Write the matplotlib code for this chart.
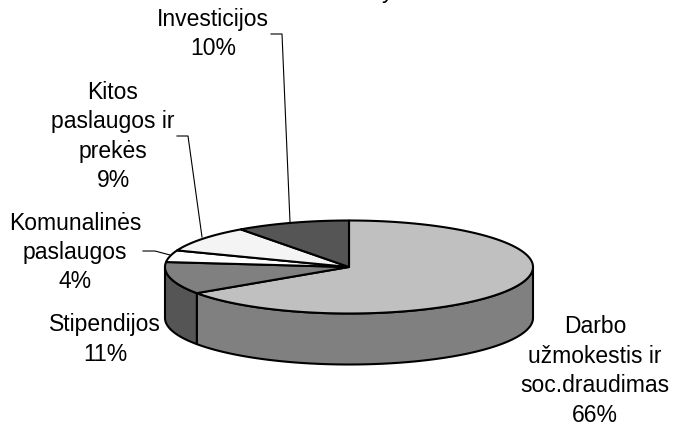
import numpy as np
import matplotlib
matplotlib.use('Agg')
import matplotlib.pyplot as plt
from matplotlib.patches import Polygon

plt.rcParams['font.family'] = ['Liberation Sans', 'DejaVu Sans']

labels = ['Darbo\nužmokestis ir\nsoc.draudimas\n66%', 'Stipendijos\n11%', 'Komunalinės\npaslaugos\n4%',
          'Kitos\npaslaugos ir\nprekės\n9%', 'Investicijos\n10%']
values = [65.5, 11.2, 4.1, 9.2, 10]
top_colors = ['#c0c0c0', '#808080', '#ffffff', '#f4f4f4', '#555555']
side_colors = ['#808080', '#555555', '#ffffff', '#f4f4f4', '#555555']
label_pos = [(595, 371), (105, 339.5), (75, 252.5), (113, 136.5), (213, 34)]
leaders = [None, None, [(143, 251), (155, 251), (170, 255)],
           [(177, 136), (188, 136), (202, 237)], [(271, 34), (282, 34), (290, 222)]]

cx, cy = 349, 267
a, b = 184, 46.5
depth = 51

fig = plt.figure(figsize=(6.74, 4.25), dpi=100)
ax = fig.add_axes([0, 0, 1, 1])
ax.set_xlim(0, 674)
ax.set_ylim(425, 0)
ax.axis('off')


def rim(t0, t1):
    # angles in degrees, clockwise from the top
    t = np.radians(np.linspace(t0, t1, max(int(abs(t1 - t0)) * 2, 2)))
    return cx + a * np.sin(t), cy - b * np.cos(t)


ends = np.cumsum(values) / sum(values) * 360
starts = np.r_[0, ends[:-1]]

# side wall, only the front half of the ellipse shows
for s, e, c in zip(starts, ends, side_colors):
    s2, e2 = max(s, 90), min(e, 270)
    if e2 <= s2:
        continue
    x, y = rim(s2, e2)
    pts = np.r_[np.c_[x, y], np.c_[x[::-1], y[::-1] + depth]]
    ax.add_patch(Polygon(pts, facecolor=c, edgecolor='black', lw=1.5, joinstyle='round'))

# top face
for s, e, c in zip(starts, ends, top_colors):
    x, y = rim(s, e)
    pts = np.r_[[(cx, cy)], np.c_[x, y]]
    ax.add_patch(Polygon(pts, facecolor=c, edgecolor='black', lw=1.5, joinstyle='round'))

for txt, pos, lead in zip(labels, label_pos, leaders):
    ax.text(pos[0], pos[1], txt, ha='center', va='center', fontsize=16.5, color='black', linespacing=1.36)
    if lead:
        ax.plot(*zip(*lead), color='black', lw=0.8)

# descender of the title, cut off at the top edge
ax.text(388, -2.5, 'y', ha='center', va='baseline', fontsize=16.5, color='black')

fig.savefig('out.png', dpi=100)
